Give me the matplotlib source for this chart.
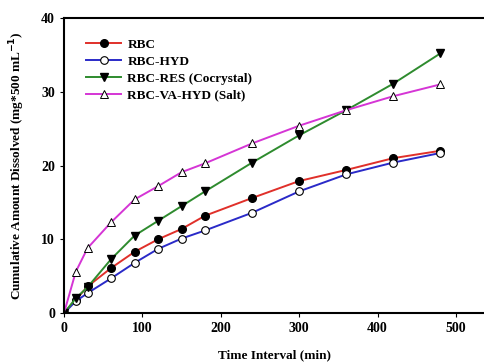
import numpy as np
import matplotlib.pyplot as plt

# ---------- data ----------
time_min = [0, 15, 30, 60, 90, 120, 150, 180, 240, 300, 360, 420, 480]
rbc = [0, 1.8, 3.6, 6.1, 8.3, 10.0, 11.4, 13.2, 15.6, 17.9, 19.4, 21.0, 22.0]
rbc_hyd = [0, 1.6, 2.7, 4.7, 6.8, 8.7, 10.1, 11.2, 13.6, 16.5, 18.8, 20.4, 21.7]
rbc_res = [0, 2.0, 3.5, 7.3, 10.5, 12.5, 14.5, 16.5, 20.4, 24.1, 27.5, 31.1, 35.2]
rbc_salt = [0, 5.6, 8.8, 12.3, 15.4, 17.2, 19.1, 20.3, 23.0, 25.4, 27.5, 29.4, 31.0]

labels = ["RBC", "RBC-HYD", "RBC-RES (Cocrystal)", "RBC-VA-HYD (Salt)"]

plt.rcParams['font.family'] = ['Liberation Serif', 'DejaVu Serif']
plt.rcParams['font.weight'] = 'bold'

fig = plt.figure(figsize=(4.85, 3.64), dpi=100)
ax = fig.add_axes([0.132, 0.140, 0.868, 0.8105])

ms = 5.5
ax.plot(time_min, rbc, color='#e0302a', lw=1.4, marker='o', ms=ms,
        mfc='black', mec='black', label=labels[0])
ax.plot(time_min, rbc_hyd, color='#2a2ac8', lw=1.4, marker='o', ms=ms,
        mfc='white', mec='black', mew=0.8, label=labels[1])
ax.plot(time_min, rbc_res, color='#2e8b2e', lw=1.4, marker='v', ms=ms,
        mfc='black', mec='black', label=labels[2])
ax.plot(time_min, rbc_salt, color='#d535d5', lw=1.4, marker='^', ms=ms,
        mfc='white', mec='black', mew=0.7, label=labels[3])

ax.set_xlim(0, 537)
ax.set_ylim(0, 40)
ax.set_xticks([0, 100, 200, 300, 400, 500])
ax.set_yticks([0, 10, 20, 30, 40])
ax.tick_params(direction='out', length=3, width=0.8, labelsize=10)
for lab in ax.get_xticklabels() + ax.get_yticklabels():
    lab.set_fontweight('bold')

for s in ['left', 'bottom', 'top']:
    ax.spines[s].set_linewidth(1.5)
ax.spines['right'].set_visible(False)

ax.set_xlabel("Time Interval (min)", fontsize=9.5, fontweight='bold', labelpad=10)
ax.set_ylabel("Cumulative Amount Dissolved (mg*500 mL$^{\\mathbf{-1}}$)",
              fontsize=9.5, fontweight='bold', labelpad=10)

ax.legend(loc='upper left', bbox_to_anchor=(0.025, 0.97), frameon=False,
          handlelength=2.6, labelspacing=0.35, handletextpad=0.5,
          prop={'weight': 'bold', 'size': 9.5})

fig.savefig("out.png", dpi=100)
